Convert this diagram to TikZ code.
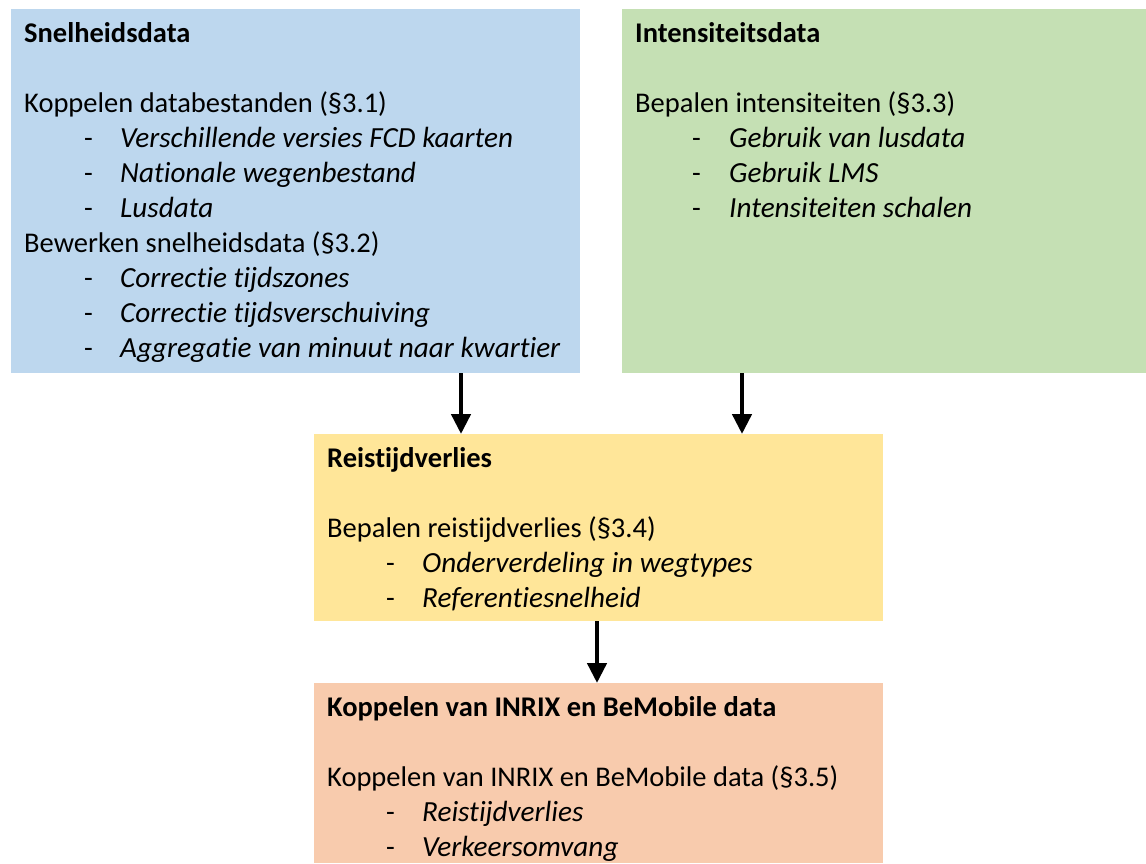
\documentclass[tikz,border=0pt]{standalone}
\usepackage{fontspec}
\setmainfont{Carlito}[Ligatures=NoCommon]
\usetikzlibrary{arrows.meta}
\definecolor{blueC}{HTML}{BDD7EE}
\definecolor{greenC}{HTML}{C5E0B4}
\definecolor{yellowC}{HTML}{FFE699}
\definecolor{orangeC}{HTML}{F8CBAD}
\begin{document}
\begin{tikzpicture}[x=1pt,y=-1pt,
  box/.style={anchor=north west, inner sep=0pt, draw=none},
  txt/.style={anchor=base west, inner sep=0pt, font=\fontsize{28.5}{35}\selectfont},
  ttl/.style={txt, font=\fontsize{28.5}{35}\selectfont\bfseries},
  itm/.style={txt, font=\fontsize{29.2}{35}\selectfont\itshape},
  arr/.style={line width=4.5pt, -{Triangle[width=19pt,length=20pt]}}]
\useasboundingbox (0,0) rectangle (1146,863);
% boxes
\node[box, fill=blueC, minimum width=569pt, minimum height=364pt] (blue) at (11,9) {};
\node[box, fill=greenC, minimum width=524pt, minimum height=364pt] (green) at (622,9) {};
\node[box, fill=yellowC, minimum width=569pt, minimum height=187pt] (yellow) at (314,434) {};
\node[box, fill=orangeC, minimum width=569pt, minimum height=180pt] (orange) at (314,683) {};
% blue texts
\node[ttl] (b0) at (24,42) {Snelheidsdata};
\node[txt] (b1) at (24,112) {Koppelen databestanden (§3.1)};
\node[txt] (b2d) at (84,147) {-}; \node[itm] (b2) at (120,147) {Verschillende versies FCD kaarten};
\node[txt] (b3d) at (84,182) {-}; \node[itm] (b3) at (120,182) {Nationale wegenbestand};
\node[txt] (b4d) at (84,217) {-}; \node[itm] (b4) at (120,217) {Lusdata};
\node[txt] (b5) at (24,252) {Bewerken snelheidsdata (§3.2)};
\node[txt] (b6d) at (84,287) {-}; \node[itm] (b6) at (120,287) {Correctie tijdszones};
\node[txt] (b7d) at (84,322) {-}; \node[itm] (b7) at (120,322) {Correctie tijdsverschuiving};
\node[txt] (b8d) at (84,357) {-}; \node[itm] (b8) at (120,357) {Aggregatie van minuut naar kwartier};
% green texts
\node[ttl] (g0) at (635,42) {Intensiteitsdata};
\node[txt] (g1) at (635,112) {Bepalen intensiteiten (§3.3)};
\node[txt] (g2d) at (692,147) {-}; \node[itm] (g2) at (729,147) {Gebruik van lusdata};
\node[txt] (g3d) at (692,182) {-}; \node[itm] (g3) at (729,182) {Gebruik LMS};
\node[txt] (g4d) at (692,217) {-}; \node[itm] (g4) at (729,217) {Intensiteiten schalen};
% yellow texts
\node[ttl] (y0) at (327,467) {Reistijdverlies};
\node[txt] (y1) at (327,537) {Bepalen reistijdverlies (§3.4)};
\node[txt] (y2d) at (386,572) {-}; \node[itm] (y2) at (422,572) {Onderverdeling in wegtypes};
\node[txt] (y3d) at (386,607) {-}; \node[itm] (y3) at (422,607) {Referentiesnelheid};
% orange texts
\node[ttl] (o0) at (327,716) {Koppelen van INRIX en BeMobile data};
\node[txt] (o1) at (327,786) {Koppelen van INRIX en BeMobile data (§3.5)};
\node[txt] (o2d) at (386,821) {-}; \node[itm] (o2) at (422,821) {Reistijdverlies};
\node[txt] (o3d) at (386,856) {-}; \node[itm] (o3) at (422,856) {Verkeersomvang};
% arrows
\draw[arr] (blue.south -| 461,0) -- (yellow.north -| 461,0);
\draw[arr] (green.south -| 742,0) -- (yellow.north -| 742,0);
\draw[arr] (yellow.south -| 597,0) -- (orange.north -| 597,0);
\end{tikzpicture}
\end{document}
